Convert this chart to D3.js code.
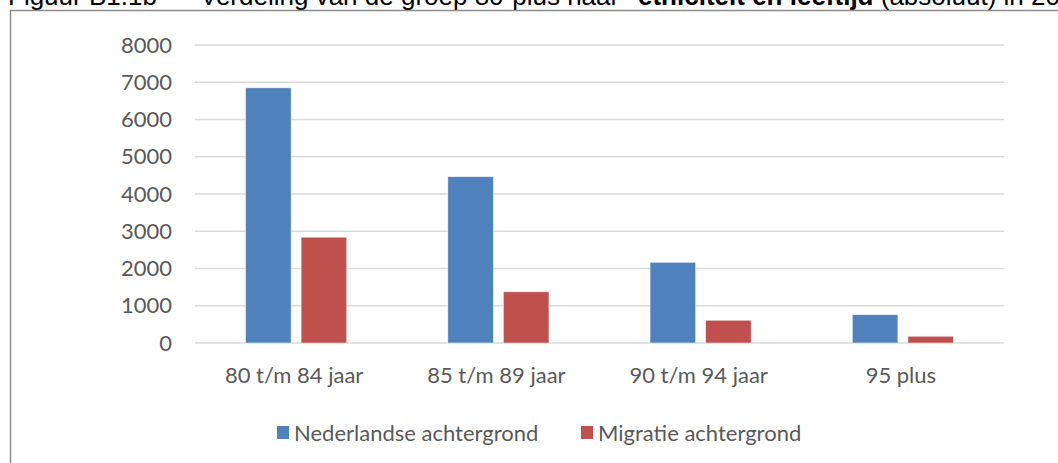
<!DOCTYPE html>
<html>
<head>
<meta charset="utf-8">
<script src="https://cdn.jsdelivr.net/npm/d3@7"></script>
<style>
  html, body { margin: 0; padding: 0; background: #fff; }
  svg { display: block; }
</style>
</head>
<body>
<svg id="chart" width="1058" height="463"></svg>
<script>
// Age groups and population counts (80-plus) by background
const categories = ["80 t/m 84 jaar", "85 t/m 89 jaar", "90 t/m 94 jaar", "95 plus"];
const seriesNames = ["Nederlandse achtergrond", "Migratie achtergrond"];
const nederlandse = [6850, 4465, 2165, 760];
const migratie = [2840, 1375, 610, 180];
const yTicks = [0, 1000, 2000, 3000, 4000, 5000, 6000, 7000, 8000];
const colors = ["#4f81bd", "#c0504d"];

const values = [nederlandse, migratie];
const rows = categories.map((c, i) => ({ cat: c, vals: values.map(v => v[i]) }));

const svg = d3.select("#chart");
const labelFont = "Lato, 'Open Sans', sans-serif";
const labelSize = 22;

// Figure caption (partly above the page edge)
const title = svg.append("text")
  .attr("y", 5)
  .attr("font-family", "'Liberation Sans', Arial, sans-serif")
  .attr("font-size", 26)
  .attr("fill", "#000");
title.append("tspan").attr("x", 8).text("Figuur B1.1b");
title.append("tspan").attr("x", 172).text("–");
title.append("tspan").attr("x", 200).text("Verdeling van de groep 80-plus naar ");
title.append("tspan").attr("x", 638).attr("font-weight", "bold").text("etniciteit en leeftijd");
title.append("tspan").attr("font-weight", "normal").text(" (absoluut) in 2017");

// Chart frame
svg.append("path")
  .attr("d", "M10.5,463 V10.5 H1058")
  .attr("fill", "none")
  .attr("stroke", "#8c8c8c")
  .attr("stroke-width", 1.5);

const y = d3.scaleLinear().domain([0, 8000]).range([343, 45]);
const x0 = d3.scaleBand().domain(categories).range([195, 1004]).padding(0);
const x1 = d3.scaleBand().domain(seriesNames)
  .range([x0.bandwidth() * 0.25, x0.bandwidth() * 0.75])
  .paddingInner(0.18);

// Horizontal gridlines
svg.append("g")
  .selectAll("line")
  .data(yTicks)
  .join("line")
  .attr("x1", 195).attr("x2", 1004)
  .attr("y1", d => y(d)).attr("y2", d => y(d))
  .attr("stroke", "#d9d9d9")
  .attr("stroke-width", 1.5);

// Y axis labels
const yAxis = d3.axisLeft(y).tickValues(yTicks).tickFormat(d3.format("d")).tickSize(0).tickPadding(0);
const yg = svg.append("g").attr("transform", "translate(172,0)").call(yAxis);
yg.select(".domain").remove();
yg.selectAll("text")
  .attr("font-family", labelFont)
  .attr("font-size", labelSize)
  .attr("fill", "#595959");

// Bars
const groups = svg.append("g")
  .selectAll("g")
  .data(rows)
  .join("g")
  .attr("transform", d => `translate(${x0(d.cat)},0)`);

groups.selectAll("rect")
  .data(d => d.vals.map((v, i) => ({ key: seriesNames[i], v, i })))
  .join("rect")
  .attr("x", d => x1(d.key))
  .attr("width", x1.bandwidth())
  .attr("y", d => y(d.v))
  .attr("height", d => y(0) - y(d.v))
  .attr("fill", d => colors[d.i])
  .attr("stroke", "rgba(255,255,255,0.6)")
  .attr("stroke-width", 0.8);

// Category labels
const xAxis = d3.axisBottom(x0).tickSize(0).tickPadding(0);
const xg = svg.append("g").attr("transform", "translate(-2,367)").call(xAxis);
xg.select(".domain").remove();
xg.selectAll("text")
  .attr("font-family", labelFont)
  .attr("font-size", labelSize)
  .attr("fill", "#595959");

// Legend
const legendItems = [
  { name: seriesNames[0], color: colors[0], x: 277 },
  { name: seriesNames[1], color: colors[1], x: 581 }
];
const lg = svg.append("g")
  .selectAll("g")
  .data(legendItems)
  .join("g")
  .attr("transform", d => `translate(${d.x},0)`);
lg.append("rect")
  .attr("x", 0).attr("y", 426)
  .attr("width", 12).attr("height", 13)
  .attr("fill", d => d.color);
lg.append("text")
  .attr("x", 17).attr("y", 441)
  .attr("font-family", labelFont)
  .attr("font-size", labelSize)
  .attr("fill", "#595959")
  .text(d => d.name);
</script>
</body>
</html>
